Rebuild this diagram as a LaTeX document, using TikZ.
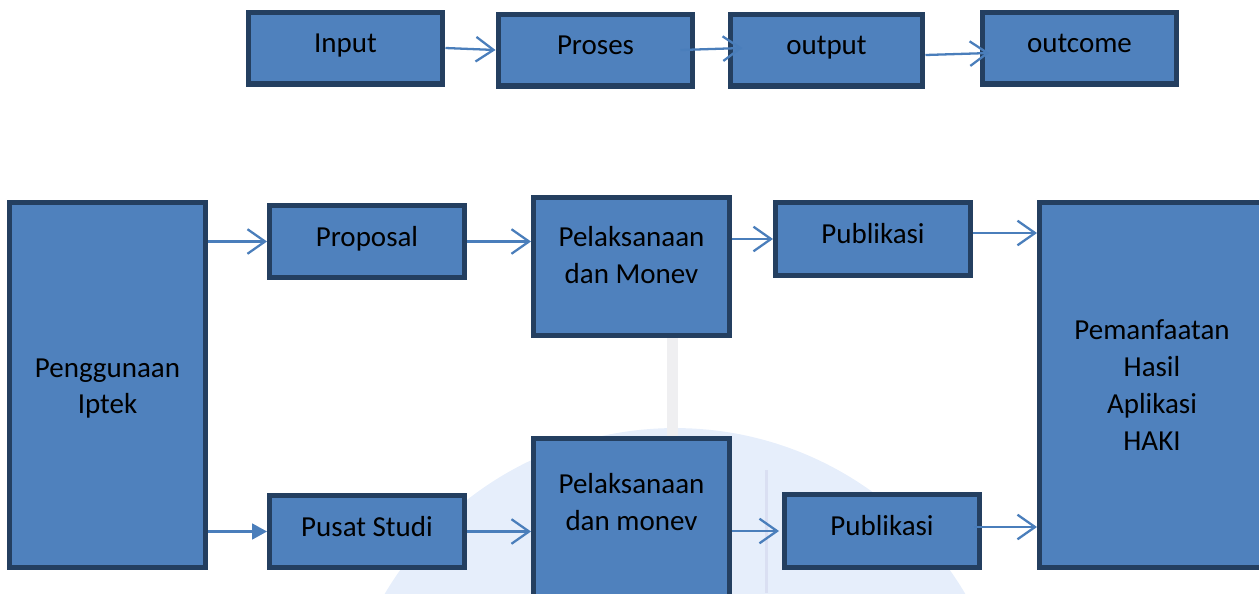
\documentclass[tikz,border=0pt]{standalone}
\usepackage{fontspec}
\setmainfont{Carlito}
\usepackage{xcolor}
\usetikzlibrary{arrows.meta, calc, positioning}
\definecolor{blokfill}{HTML}{4F81BD}
\definecolor{blokline}{HTML}{243F60}
\definecolor{pfeilblue}{HTML}{4A7EBB}
\definecolor{wmblue}{HTML}{E6EEFB}
\definecolor{wmgray}{HTML}{EFEFF1}
\definecolor{wmline}{HTML}{DADFF2}

\begin{document}
\begin{tikzpicture}[x=0.02cm, y=-0.02cm,
    blok/.style={draw=blokline, fill=blokfill, line width=2.85pt, minimum width=3.9cm, minimum height=1.44cm, inner sep=0pt, font=\fontsize{16.5}{21}\selectfont, align=center},
    satu/.style={text height=0.7em, text depth=0.14em},
    tulisan/.style={font=\fontsize{16.5}{21}\selectfont, align=center, anchor=north},
    pfeil/.style={draw=pfeilblue, line width=1.3pt, -{Straight Barb[length=10pt, width=14pt, line width=1.3pt]}},
    pfeilpenuh/.style={draw=pfeilblue, line width=1.3pt, -{Triangle[length=8.5pt, width=9pt]}}]
            \clip (0, 0) rectangle (1259, 593);

            \fill[wmblue] (675, 765) circle [radius=6.74cm];
            \fill[wmgray] (667, 338) rectangle (678, 436);
            \fill[wmline] (765, 470) rectangle (768, 593);

            \node [blok, satu] (input)   at (345.5, 48) {Input};
            \node [blok, satu] (proses)  at (595.5, 50) {Proses};
            \node [blok, satu, minimum width=3.86cm] (output) at (826.5, 50) {output};
            \node [blok, satu] (outcome) at (1079.5, 48) {outcome};

            \node [blok, minimum width=3.92cm, minimum height=7.3cm] (guna) at (107.5, 385) {};
            \node [tulisan, anchor=center] (gunatext) at ([yshift=-0.07cm]guna.center) {Penggunaan\\Iptek};
            \node [blok, satu] (proposal) at (367, 241.5) {Proposal};
            \node [blok, minimum width=3.92cm, minimum height=2.76cm] (pelA) at (631.5, 266.5) {};
            \node [tulisan] (pelAtext) at ([yshift=-0.5cm]pelA.north) {Pelaksanaan\\dan Monev};
            \node [blok, satu, minimum height=1.46cm] (pubA) at (873, 239) {Publikasi};
            \node [blok, minimum width=4.5cm, minimum height=7.3cm] (manfaat) at (1152, 385) {Pemanfaatan\\Hasil\\Aplikasi\\HAKI};

            \node [blok, satu] (pusat) at (367, 531.5) {Pusat Studi};
            \node [blok, minimum width=3.92cm, minimum height=3.3cm] (pelB) at (631.5, 521) {};
            \node [tulisan] (pelBtext) at ([yshift=-0.63cm]pelB.north) {Pelaksanaan\\dan monev};
            \node [blok, satu, minimum height=1.46cm] (pubB) at (882, 531) {Publikasi};

            \draw[pfeil] (input.east) -- (proses.west);
            \draw[pfeil] ($(proses.east)+(-15, 0)$) -- ($(output.west)+(15, -2)$);
            \draw[pfeil] ($(output.east)+(0, 5)$) -- ($(outcome.west)+(10, 5)$);

            \draw[pfeil] (guna.east |- proposal.west) -- (proposal.west);
            \draw[pfeil] (proposal.east) -- (proposal.east -| pelA.west);
            \draw[pfeil] (pelA.east |- pubA.west) -- (pubA.west);
            \draw[pfeil] ($(pubA.east)+(0, -6)$) coordinate (pubAout) -- (pubAout -| manfaat.west);

            \draw[pfeilpenuh] (guna.east |- pusat.west) -- (pusat.west);
            \draw[pfeil] (pusat.east) -- (pusat.east -| pelB.west);
            \draw[pfeil] (pelB.east |- pubB.west) -- ($(pubB.west)+(-3, 0)$);
            \draw[pfeil] ($(pubB.east)+(-8, -4)$) coordinate (pubBout) -- (pubBout -| manfaat.west);

        \end{tikzpicture}
\end{document}
